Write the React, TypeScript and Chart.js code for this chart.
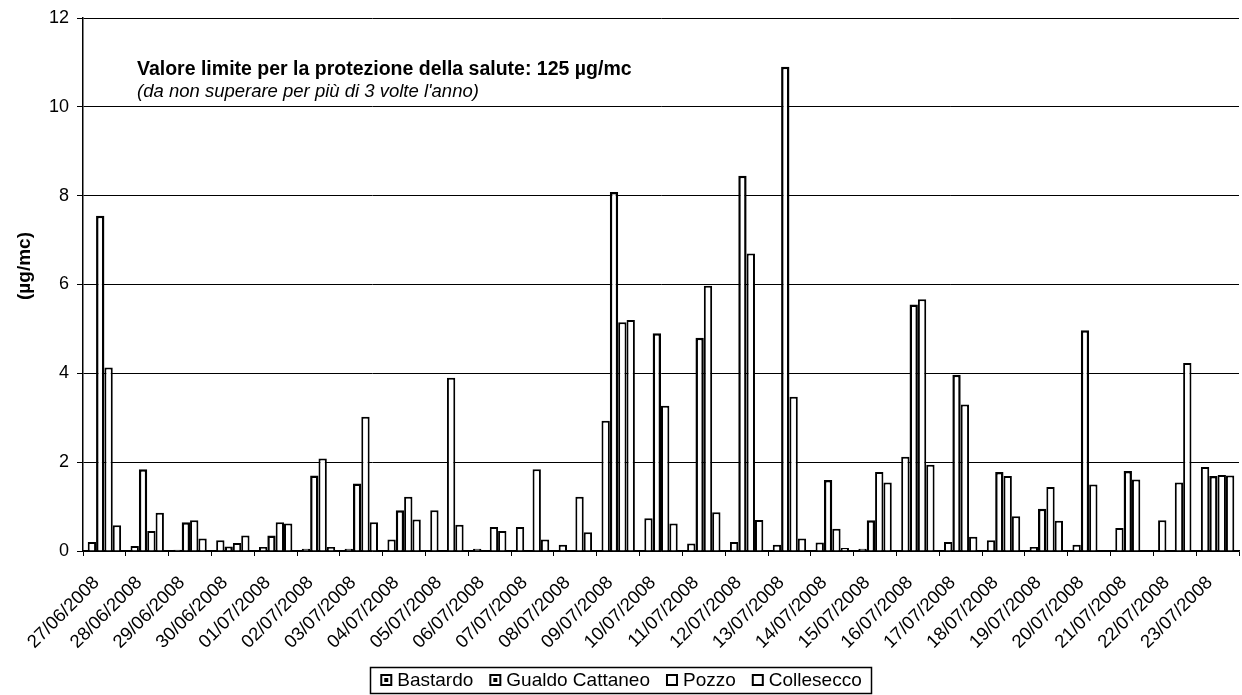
import React, { useEffect, useRef } from "react";
import { Chart, registerables } from "chart.js";

Chart.register(...registerables);

const labels = [
  "27/06/2008", "28/06/2008", "29/06/2008", "30/06/2008", "01/07/2008", "02/07/2008",
  "03/07/2008", "04/07/2008", "05/07/2008", "06/07/2008", "07/07/2008", "08/07/2008",
  "09/07/2008", "10/07/2008", "11/07/2008", "12/07/2008", "13/07/2008", "14/07/2008",
  "15/07/2008", "16/07/2008", "17/07/2008", "18/07/2008", "19/07/2008", "20/07/2008",
  "21/07/2008", "22/07/2008", "23/07/2008",
];

const bastardo = [0.2, 0.11, 0.03, 0.24, 0.09, 0.05, 0.05, 0.26, 0.92, 0.05, 0.54, 0.14, 2.93, 0.74, 0.17, 0.2, 0.14, 0.19, 0.05, 2.12, 0.2, 0.24, 0.09, 0.14, 0.52, 0.69, 1.89];
const gualdoCattaneo = [7.55, 1.84, 0.65, 0.1, 0.35, 1.7, 1.52, 0.92, null, null, null, null, 8.08, 4.9, 4.8, 8.45, 10.9, 1.6, 0.69, 5.55, 3.97, 1.78, 0.95, 4.97, 1.8, null, 1.69];
const pozzo = [4.13, 0.45, 0.69, 0.18, 0.65, 2.08, 3.02, 1.22, 3.9, 0.54, 1.84, 1.22, 5.15, 3.27, 5.97, 6.7, 3.47, 0.5, 1.78, 5.67, 3.3, 1.69, 1.44, 1.5, 1.61, 1.54, 1.71];
const collesecco = [0.58, 0.86, 0.28, 0.35, 0.62, 0.09, 0.65, 0.71, 0.59, 0.45, 0.26, 0.42, 5.2, 0.62, 0.87, 0.7, 0.28, 0.07, 1.54, 1.94, 0.32, 0.78, 0.68, null, null, 4.23, 1.7];

const seriesNames = ["Bastardo", "Gualdo Cattaneo", "Pozzo", "Collesecco"];
const yMin = 0;
const yMax = 12;
const yStep = 2;
const yTitle = "(\u00b5g/mc)";
const noteTitle = "Valore limite per la protezione della salute: 125 \u00b5g/mc";
const noteSub = "(da non superare per pi\u00f9 di 3 volte l'anno)";

const FONT = "'Liberation Sans', Arial, sans-serif";

export default function App() {
  const ref = useRef<HTMLCanvasElement>(null);

  useEffect(() => {
    document.body.style.margin = "0";
    const canvas = ref.current;
    if (!canvas) return;

    const extras = {
      id: "extras",
      afterDraw(chart: any) {
        const ctx = chart.ctx as CanvasRenderingContext2D;
        ctx.save();
        ctx.fillStyle = "#000";
        // note text
        ctx.textAlign = "left";
        ctx.textBaseline = "middle";
        ctx.font = `bold 19.5px ${FONT}`;
        ctx.fillText(noteTitle, 137, 70);
        ctx.font = `italic 18.5px ${FONT}`;
        ctx.fillText(noteSub, 137, 92);
        // y title
        ctx.save();
        ctx.translate(25, 266);
        ctx.rotate(-Math.PI / 2);
        ctx.textAlign = "center";
        ctx.font = `bold 19px ${FONT}`;
        ctx.fillText(yTitle, 0, 0);
        ctx.restore();
        // legend
        ctx.font = `19px ${FONT}`;
        const box = 12;
        const gapIn = 5;
        const gapOut = 16;
        const widths = seriesNames.map((n) => box + gapIn + ctx.measureText(n).width);
        const total = widths.reduce((a, b) => a + b, 0) + gapOut * (seriesNames.length - 1);
        let x = 621 - total / 2;
        const cy = 680;
        ctx.lineWidth = 1.5;
        ctx.strokeStyle = "#000";
        ctx.strokeRect(Math.round(x - 10) + 0.5, 667.5, Math.round(total + 20), 26);
        ctx.textAlign = "left";
        ctx.textBaseline = "middle";
        seriesNames.forEach((n, i) => {
          ctx.fillStyle = "#fff";
          ctx.fillRect(x, cy - box / 2, box, box);
          ctx.lineWidth = 2;
          ctx.strokeRect(x + 1, cy - box / 2 + 1, box - 2, box - 2);
          if (i < 2) {
            ctx.fillStyle = "#000";
            ctx.fillRect(x + 4, cy - 2, 4, 4);
          }
          ctx.fillStyle = "#000";
          ctx.fillText(n, x + box + gapIn, cy + 1);
          x += widths[i] + gapOut;
        });
        ctx.restore();
      },
    };

    const mk = (label: string, data: (number | null)[], bw: number) => ({
      label,
      data,
      backgroundColor: "#ffffff",
      borderColor: "#000000",
      borderWidth: bw,
      borderSkipped: "bottom",
      categoryPercentage: 0.78,
      barPercentage: 1.0,
    });

    const chart = new Chart(canvas, {
      type: "bar",
      data: {
        labels,
        datasets: [
          mk(seriesNames[0], bastardo, 2),
          mk(seriesNames[1], gualdoCattaneo, 2.5),
          mk(seriesNames[2], pozzo, 2),
          mk(seriesNames[3], collesecco, 2),
        ] as any,
      },
      options: {
        responsive: false,
        animation: false,
        layout: { padding: { top: 18, right: 3, left: 0, bottom: 0 } },
        plugins: {
          legend: { display: false },
          tooltip: { enabled: false },
        },
        scales: {
          x: {
            grid: {
              display: true,
              drawOnChartArea: false,
              offset: true,
              tickLength: 5,
              color: "#000",
            },
            border: { color: "#000", width: 1.5 },
            ticks: {
              color: "#000",
              font: { family: FONT, size: 18.5 },
              maxRotation: 45,
              minRotation: 45,
              autoSkip: false,
              padding: 16,
              labelOffset: -8,
            },
            afterFit: (s: any) => {
              s.height = 144;
              s.paddingLeft = 0;
              s.paddingRight = 0;
            },
          },
          y: {
            min: yMin,
            max: yMax,
            grid: { color: "#000", lineWidth: 1, tickLength: 6 },
            border: { color: "#000", width: 1.5 },
            ticks: {
              stepSize: yStep,
              color: "#000",
              font: { family: FONT, size: 18 },
              padding: 8,
            },
            afterFit: (s: any) => {
              s.width = 83;
              s.paddingTop = 0;
              s.paddingBottom = 0;
            },
          },
        },
      },
      plugins: [extras],
    });
    return () => chart.destroy();
  }, []);

  return (
    <div style={{ position: "absolute", left: 0, top: 0, width: 1242, height: 695, background: "#fff" }}>
      <canvas ref={ref} width={1242} height={695} style={{ display: "block" }} />
    </div>
  );
}
